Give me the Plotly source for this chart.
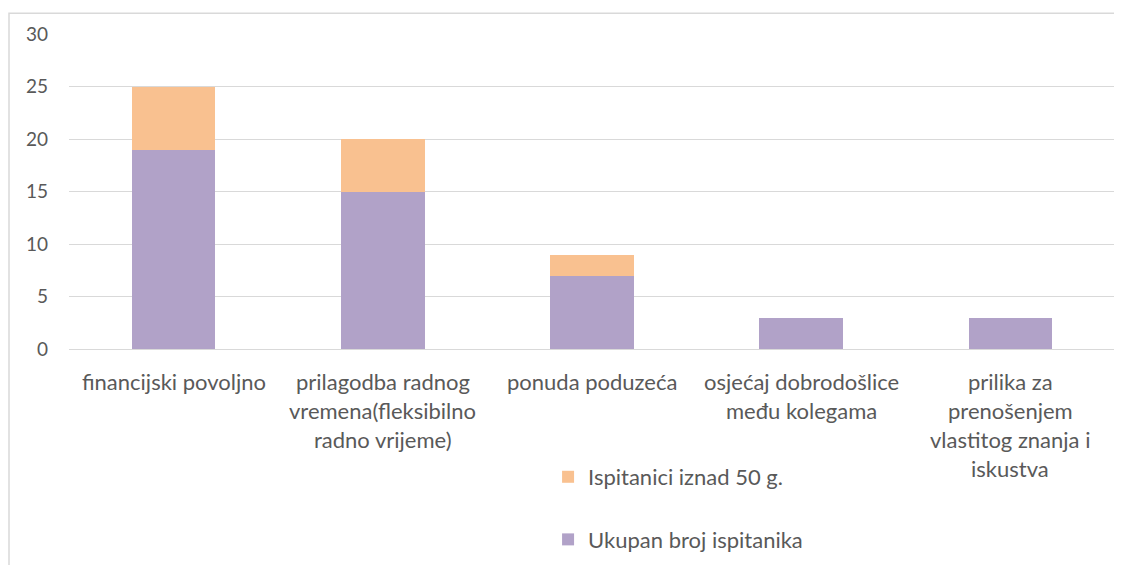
import plotly.graph_objects as go

categories = [
    "financijski povoljno",
    "prilagodba radnog<br>vremena(fleksibilno<br>radno vrijeme)",
    "ponuda poduzeća",
    "osjećaj dobrodošlice<br>među kolegama",
    "prilika za<br>prenošenjem<br>vlastitog znanja i<br>iskustva",
]
ukupan = [19, 15, 7, 3, 3]
iznad50 = [6, 5, 2, 0, 0]
y_ticks = [0, 5, 10, 15, 20, 25, 30]

FONT = "Lato"
TXT = "#595959"
GRID = "#d9d9d9"

x_idx = list(range(len(categories)))

fig = go.Figure()
fig.add_trace(go.Bar(x=x_idx, y=ukupan, name="Ukupan broj ispitanika",
                     marker=dict(color="#b1a2c8", line=dict(width=0)),
                     legendgroup="b", legendrank=2))
fig.add_trace(go.Bar(x=x_idx, y=iznad50, name="Ispitanici iznad 50 g.",
                     marker=dict(color="#f9c190", line=dict(width=0)),
                     legendgroup="a", legendrank=1))

annotations = []
for i, lab in enumerate(categories):
    for j, line in enumerate(lab.split("<br>")):
        annotations.append(dict(x=i, y=0, xref="x", yref="paper", text=line,
                                showarrow=False, yanchor="middle", xanchor="center",
                                yshift=-32 - 29 * j,
                                font=dict(family=FONT, size=22, color=TXT)))

PH = 565 - 26 - 221

fig.update_layout(
    width=1122, height=565,
    barmode="stack", bargap=0.6,
    paper_bgcolor="white", plot_bgcolor="white",
    margin=dict(l=61, r=15, t=26, b=221),
    font=dict(family=FONT, size=22, color=TXT),
    xaxis=dict(range=[-0.5, 4.5], showticklabels=False, showgrid=False,
               showline=False, zeroline=False, fixedrange=True),
    yaxis=dict(range=[0, 30], tickvals=y_ticks, showgrid=True, gridcolor=GRID,
               gridwidth=1, zeroline=True, zerolinecolor=GRID, zerolinewidth=1,
               showline=False, ticklabelstandoff=20,
               tickfont=dict(family=FONT, size=19, color=TXT)),
    legend=dict(x=0.458, y=-(457 + 3 - 352) / PH, xanchor="left", yanchor="top",
                traceorder="grouped", tracegroupgap=31,
                font=dict(family=FONT, size=22, color=TXT),
                bgcolor="rgba(0,0,0,0)", itemwidth=30),
    annotations=annotations,
    shapes=[dict(type="rect", xref="paper", yref="paper",
                 x0=(9 - 69) / 1046, x1=1.2, y0=-1.0, y1=(352 - 13) / PH,
                 line=dict(color=GRID, width=1.5), layer="below")],
)

fig.write_html("out.html")
